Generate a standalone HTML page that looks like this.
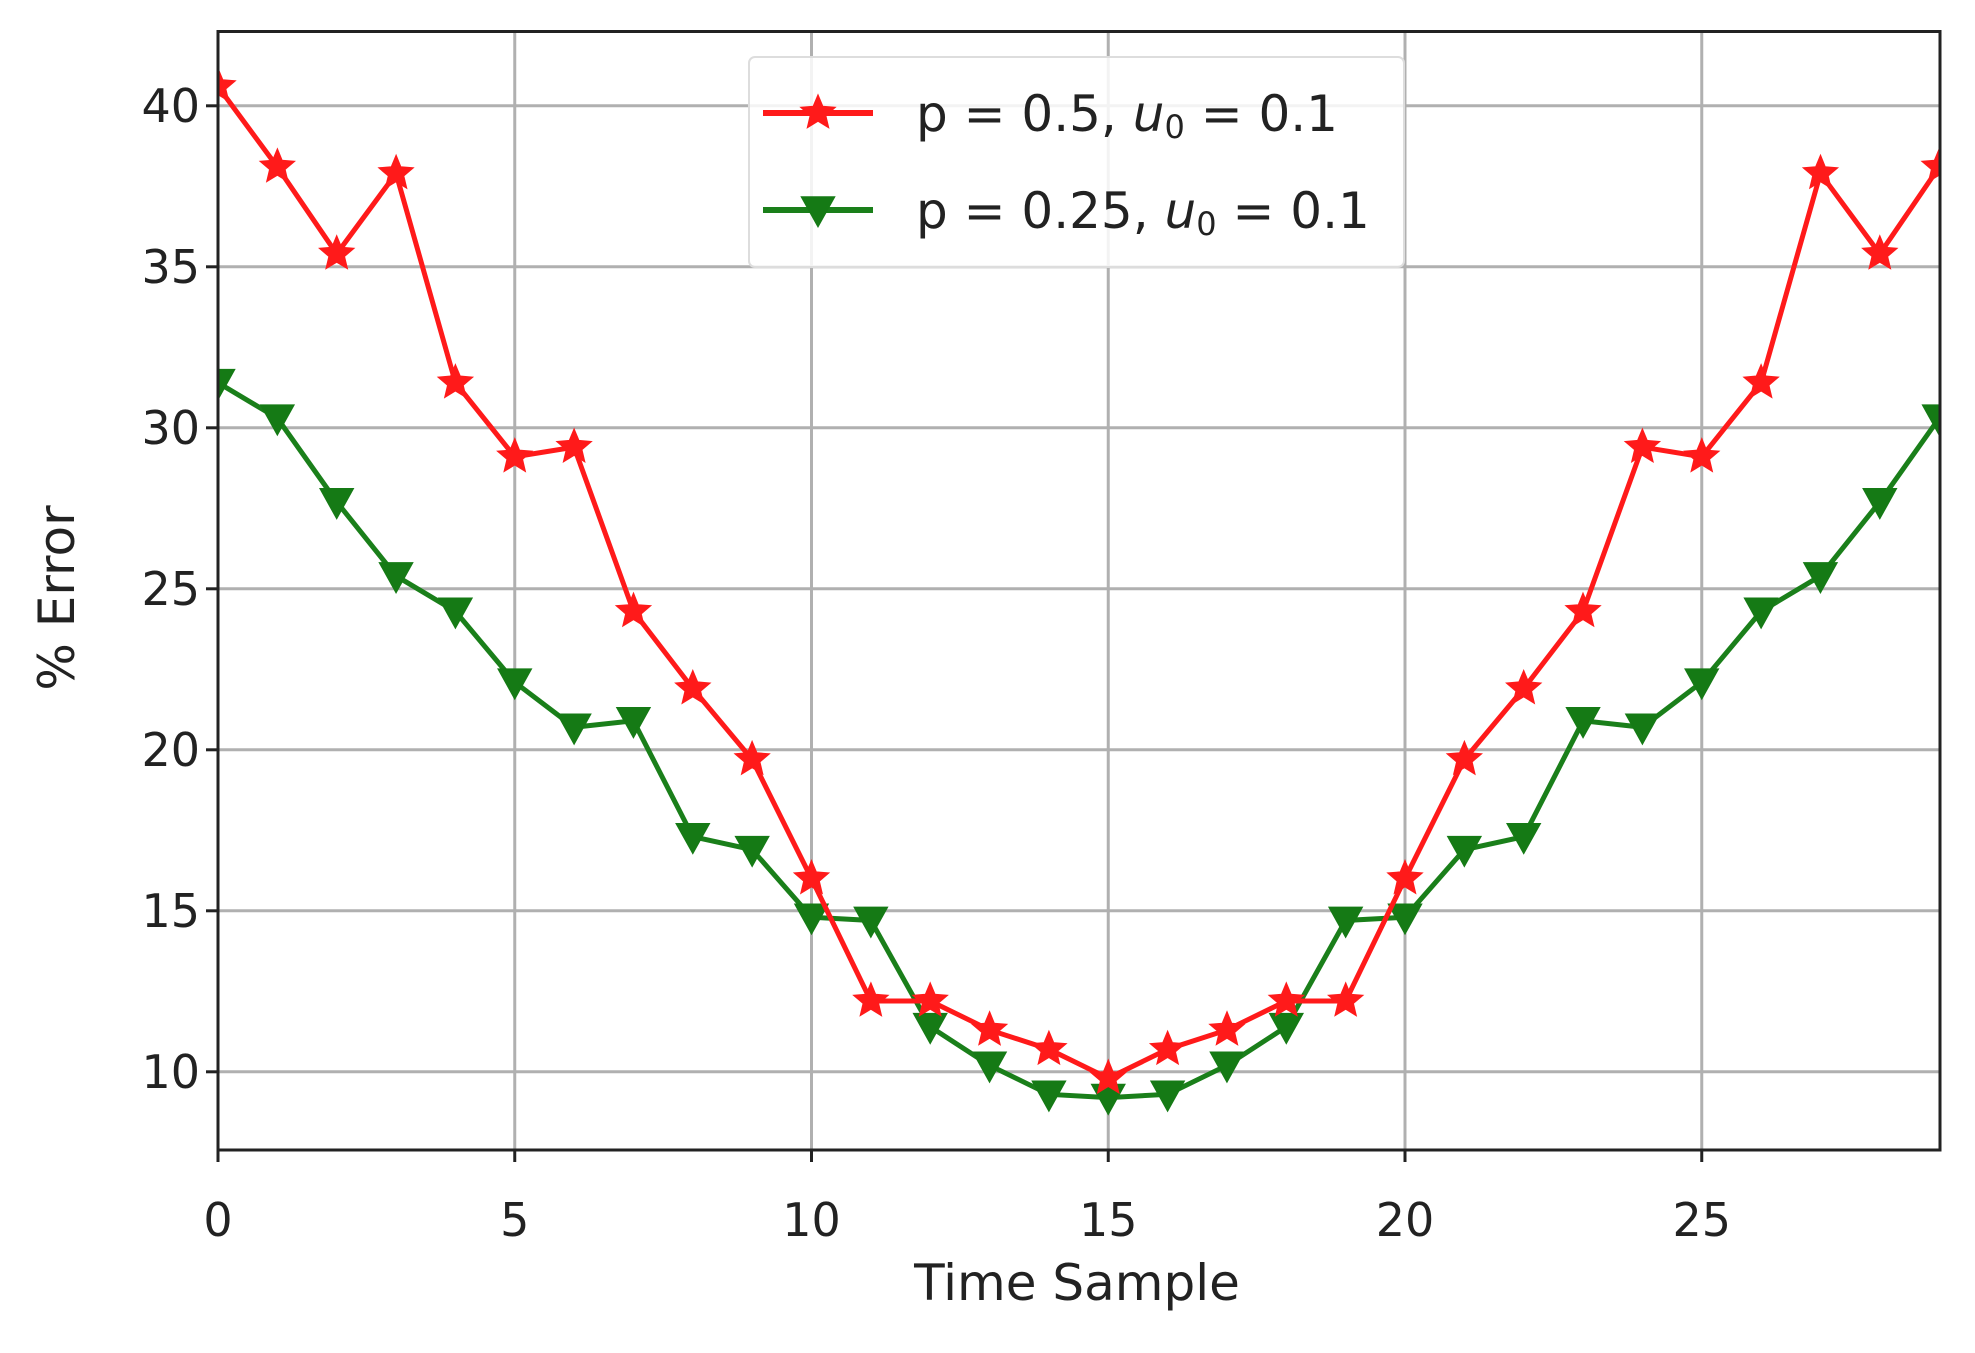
<!DOCTYPE html>
<html><head><style>body{margin:0;background:#fff}svg{display:block}text{font-family:"DejaVu Sans","Liberation Sans",sans-serif;fill:#222}</style></head>
<body>
<svg id="s" width="1975" height="1353" xmlns="http://www.w3.org/2000/svg"></svg>
<script>
const s=document.getElementById('s');
const X0=218,XU=59.35,Y40=105.8,YU=32.2;
const fx=v=>X0+v*XU, fy=v=>Y40+(40-v)*YU;
let h='';
h+='<rect x="218" y="31.5" width="1722" height="1118.5" fill="#fff"/>';
for(let v=0;v<=25;v+=5){h+=`<line x1="${fx(v)}" y1="31.5" x2="${fx(v)}" y2="1150" stroke="#b0b0b0" stroke-width="3"/>`;
h+=`<line x1="${fx(v)}" y1="1150" x2="${fx(v)}" y2="1162" stroke="#222" stroke-width="3"/>`;
h+=`<text x="${fx(v)}" y="1236" font-size="46" text-anchor="middle">${v}</text>`;}
for(let v=10;v<=40;v+=5){h+=`<line x1="218" y1="${fy(v)}" x2="1940" y2="${fy(v)}" stroke="#b0b0b0" stroke-width="3"/>`;
h+=`<line x1="206" y1="${fy(v)}" x2="218" y2="${fy(v)}" stroke="#222" stroke-width="3"/>`;
h+=`<text x="200" y="${fy(v)+16}" font-size="46" text-anchor="end">${v}</text>`;}
const r=[40.6,38.1,35.4,37.9,31.4,29.1,29.4,24.3,21.9,19.7,16.0,12.2,12.2,11.3,10.7,9.8,10.7,11.3,12.2,12.2,16.0,19.7,21.9,24.3,29.4,29.1,31.4,37.9,35.4,38.1];
const g=[31.4,30.3,27.7,25.4,24.3,22.1,20.7,20.9,17.3,16.9,14.8,14.7,11.4,10.2,9.3,9.2,9.3,10.2,11.4,14.7,14.8,16.9,17.3,20.9,20.7,22.1,24.3,25.4,27.7,30.3];
function star(cx,cy,R,c){let p=[];for(let i=0;i<10;i++){const a=-Math.PI/2+i*Math.PI/5,rr=i%2?R*0.45:R;p.push((cx+rr*Math.cos(a)).toFixed(1)+','+(cy+rr*Math.sin(a)).toFixed(1));}return `<polygon points="${p.join(' ')}" fill="${c}" stroke="${c}" stroke-width="2"/>`;}
function tri(cx,cy,R,c){return `<polygon points="${cx-R},${cy-R*0.8} ${cx+R},${cy-R*0.8} ${cx},${cy+R}" fill="${c}" stroke="${c}" stroke-width="2"/>`;}
let body='';
body+=`<polyline fill="none" stroke="#1a7f1a" stroke-width="5" points="${g.map((v,i)=>fx(i)+','+fy(v)).join(' ')}"/>`;
g.forEach((v,i)=>body+=tri(fx(i),fy(v),16,'#157a15'));
body+=`<polyline fill="none" stroke="#ff1a1a" stroke-width="5" points="${r.map((v,i)=>fx(i)+','+fy(v)).join(' ')}"/>`;
r.forEach((v,i)=>body+=star(fx(i),fy(v),17,'#ff1a1a'));
h+=`<clipPath id="c"><rect x="218" y="31.5" width="1722" height="1118.5"/></clipPath><g clip-path="url(#c)">${body}</g>`;
h+='<rect x="218" y="31.5" width="1722" height="1118.5" fill="none" stroke="#222" stroke-width="3"/>';
h+='<rect x="749" y="57" width="655" height="210" rx="6" fill="#fff" fill-opacity="0.85" stroke="#ddd" stroke-width="2"/>';
h+='<line x1="763" y1="113" x2="873" y2="113" stroke="#ff1a1a" stroke-width="6"/>'+star(818,113,17,'#ff1a1a');
h+='<line x1="763" y1="210" x2="873" y2="210" stroke="#1a7f1a" stroke-width="6"/>'+tri(818,210,16,'#157a15');
h+='<text x="916" y="131" font-size="50">p = 0.5, <tspan font-style="italic">u</tspan><tspan font-size="32" dy="7">0</tspan><tspan dy="-7"> = 0.1</tspan></text>';
h+='<text x="916" y="228" font-size="50">p = 0.25, <tspan font-style="italic">u</tspan><tspan font-size="32" dy="7">0</tspan><tspan dy="-7"> = 0.1</tspan></text>';
h+='<text x="1077" y="1300" font-size="50" text-anchor="middle">Time Sample</text>';
h+='<text transform="translate(74,598) rotate(-90)" font-size="50" text-anchor="middle">% Error</text>';
s.innerHTML=h;
</script>
</body></html>
